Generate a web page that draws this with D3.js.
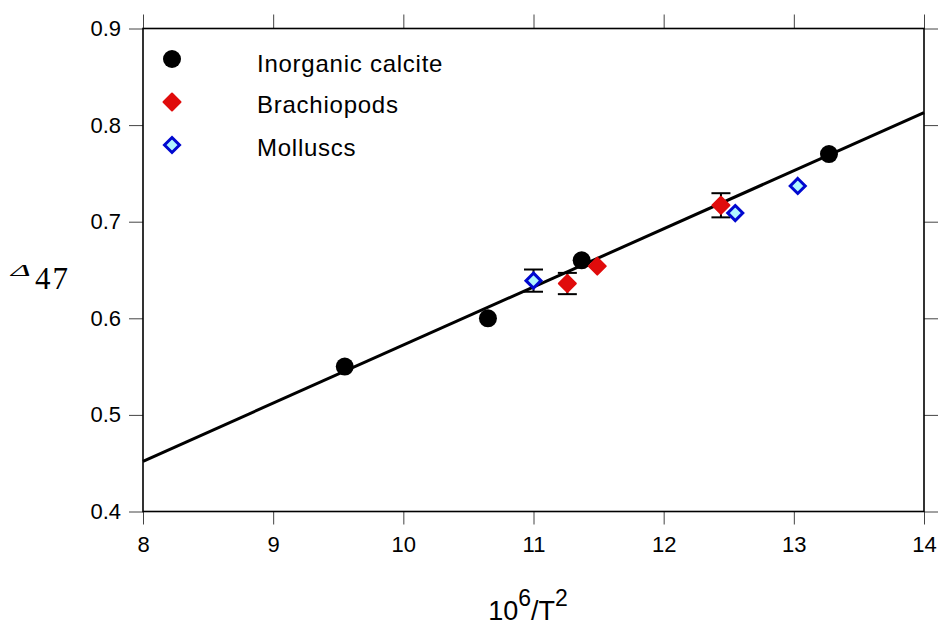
<!DOCTYPE html>
<html>
<head>
<meta charset="utf-8">
<script src="https://cdn.jsdelivr.net/npm/d3@7"></script>
<style>
  body { margin: 0; background: #fff; }
  svg { display: block; font-family: "Liberation Sans", Arial, sans-serif; }
</style>
</head>
<body>
<div id="chart"></div>
<script>
// data
var calciteX = [9.55, 10.65, 11.37, 13.27];
var calciteY = [0.550, 0.600, 0.660, 0.770];

var brachX = [11.26, 11.49, 12.44];
var brachY = [0.636, 0.654, 0.717];
var brachErr = [0.011, 0, 0.0125];

var molluscX = [11.00, 12.55, 13.03];
var molluscY = [0.639, 0.709, 0.737];
var molluscErr = [0.0115, 0, 0];

var fitX = [8, 14];
var fitY = [0.452, 0.813];

var xTicks = [8, 9, 10, 11, 12, 13, 14];
var yTicks = [0.4, 0.5, 0.6, 0.7, 0.8, 0.9];

var legendNames = ["Inorganic calcite", "Brachiopods", "Molluscs"];

var W = 939, H = 625;
var mLeft = 143, mRight = 924, mTop = 28.5, mBottom = 511.5;

var svg = d3.select("#chart").append("svg").attr("width", W).attr("height", H);

var x = d3.scaleLinear().domain([8, 14]).range([mLeft, mRight]);
var y = d3.scaleLinear().domain([0.4, 0.9]).range([mBottom, mTop]);

function styleAxis(g) {
    g.select(".domain").remove();
    g.selectAll(".tick line").attr("stroke", "#444").attr("stroke-width", 1);
    g.selectAll(".tick text")
        .attr("font-family", "Liberation Sans, Arial, sans-serif")
        .attr("font-size", "22px")
        .attr("fill", "#000");
}

svg.append("g").attr("transform", "translate(0," + mBottom + ")")
    .call(d3.axisBottom(x).tickValues(xTicks).tickFormat(d3.format("d")).tickSize(13).tickSizeOuter(0).tickPadding(12))
    .call(styleAxis);
svg.append("g").attr("transform", "translate(0," + mTop + ")")
    .call(d3.axisTop(x).tickValues(xTicks).tickFormat("").tickSize(14).tickSizeOuter(0))
    .call(styleAxis);
svg.append("g").attr("transform", "translate(" + mLeft + ",0)")
    .call(d3.axisLeft(y).tickValues(yTicks).tickFormat(d3.format(".1f")).tickSize(14).tickSizeOuter(0).tickPadding(8))
    .call(styleAxis);
svg.append("g").attr("transform", "translate(" + mRight + ",0)")
    .call(d3.axisRight(y).tickValues(yTicks).tickFormat("").tickSize(14).tickSizeOuter(0))
    .call(styleAxis);

// frame
svg.append("rect")
    .attr("x", mLeft).attr("y", mTop)
    .attr("width", mRight - mLeft).attr("height", mBottom - mTop)
    .attr("fill", "none").attr("stroke", "#000").attr("stroke-width", 1.6);

// fit line
svg.append("line")
    .attr("x1", x(fitX[0])).attr("y1", y(fitY[0]))
    .attr("x2", x(fitX[1])).attr("y2", y(fitY[1]))
    .attr("stroke", "#000").attr("stroke-width", 3);

// error bars
function errorBars(xs, ys, es) {
    xs.forEach(function (xv, i) {
        if (!es[i]) return;
        var cx = x(xv), y1 = y(ys[i] + es[i]), y2 = y(ys[i] - es[i]);
        var g = svg.append("g").attr("stroke", "#000").attr("stroke-width", 2);
        g.append("line").attr("x1", cx).attr("x2", cx).attr("y1", y1).attr("y2", y2);
        g.append("line").attr("x1", cx - 9.5).attr("x2", cx + 9.5).attr("y1", y1).attr("y2", y1);
        g.append("line").attr("x1", cx - 9.5).attr("x2", cx + 9.5).attr("y1", y2).attr("y2", y2);
    });
}
errorBars(brachX, brachY, brachErr);
errorBars(molluscX, molluscY, molluscErr);

function diamond(s) {
    return "M0," + (-s) + "L" + s + ",0L0," + s + "L" + (-s) + ",0Z";
}

function drawCircle(cx, cy) {
    svg.append("circle").attr("cx", cx).attr("cy", cy).attr("r", 9).attr("fill", "#000");
}
function drawRed(cx, cy) {
    svg.append("path").attr("d", diamond(8.5))
        .attr("transform", "translate(" + cx + "," + cy + ")")
        .attr("fill", "#e00c0c").attr("stroke", "#e00c0c")
        .attr("stroke-width", 2).attr("stroke-linejoin", "round");
}
function drawBlue(cx, cy) {
    svg.append("path").attr("d", diamond(7.5))
        .attr("transform", "translate(" + cx + "," + cy + ")")
        .attr("fill", "#b0f6ff").attr("stroke", "#0008d0")
        .attr("stroke-width", 3).attr("stroke-linejoin", "miter");
}

calciteX.forEach(function (d, i) { drawCircle(x(d), y(calciteY[i])); });
molluscX.forEach(function (d, i) { drawBlue(x(d), y(molluscY[i])); });
brachX.forEach(function (d, i) { drawRed(x(d), y(brachY[i])); });

// legend
var legY = [59, 102, 145];
var legBase = [72, 113, 156];
drawCircle(172, legY[0]);
drawRed(172, legY[1]);
drawBlue(172, legY[2]);
legendNames.forEach(function (n, i) {
    svg.append("text")
        .attr("x", 257).attr("y", legBase[i])
        .attr("font-size", "24px")
        .attr("letter-spacing", "0.75px")
        .attr("fill", "#000")
        .text(n);
});

// axis titles
var xt = svg.append("text")
    .attr("x", 528).attr("y", 620)
    .attr("text-anchor", "middle")
    .attr("font-size", "27px")
    .attr("fill", "#000");
xt.append("tspan").text("10");
xt.append("tspan").attr("dy", -14).attr("font-size", "23px").text("6");
xt.append("tspan").attr("dy", 14).text("/T");
xt.append("tspan").attr("dy", -14).attr("font-size", "23px").text("2");

// Δ47 label: wide flat delta, then serif subscript-like digits
svg.append("text")
    .attr("transform", "translate(11,276) scale(2.1,1)")
    .attr("font-family", "Liberation Serif, Times New Roman, serif")
    .attr("font-style", "italic")
    .attr("font-size", "16px")
    .attr("fill", "#000")
    .text("Δ");
svg.append("text")
    .attr("x", 35).attr("y", 289)
    .attr("font-family", "Liberation Serif, Times New Roman, serif")
    .attr("font-size", "31px")
    .attr("letter-spacing", "2px")
    .attr("fill", "#000")
    .text("47");
</script>
</body>
</html>
